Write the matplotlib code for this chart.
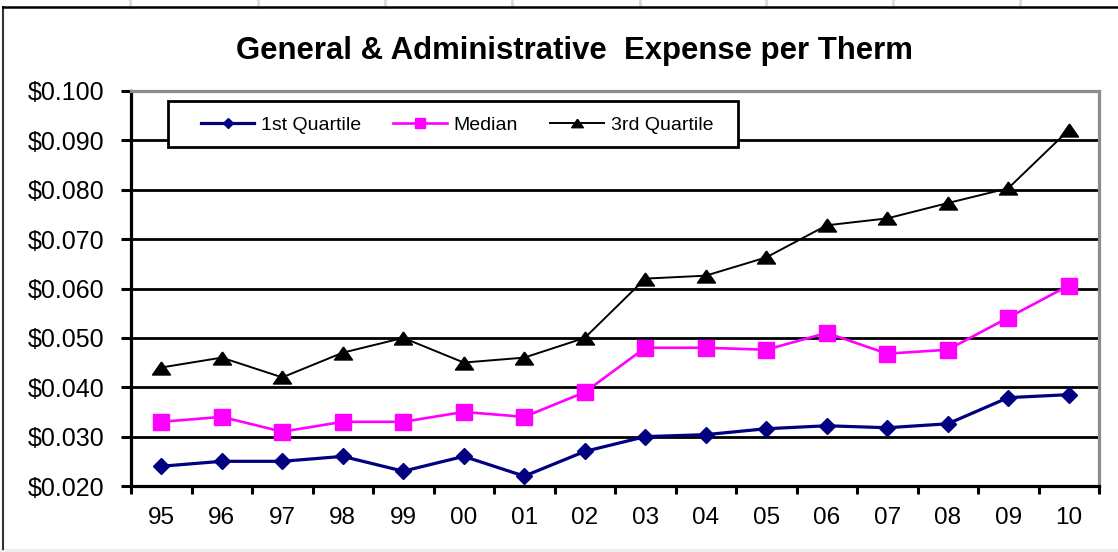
import matplotlib
matplotlib.use("Agg")
import matplotlib.pyplot as plt
from matplotlib.lines import Line2D
from matplotlib.patches import Rectangle
from matplotlib.ticker import FuncFormatter, FixedLocator

plt.rcParams['font.family'] = ['Liberation Sans', 'DejaVu Sans']

years = ["95", "96", "97", "98", "99", "00", "01", "02", "03", "04", "05", "06", "07", "08", "09", "10"]
q1 = [0.024, 0.025, 0.025, 0.026, 0.023, 0.026, 0.022, 0.027, 0.030, 0.0304, 0.0316, 0.0322, 0.0318, 0.0326, 0.0379, 0.0385]
median = [0.033, 0.034, 0.031, 0.033, 0.033, 0.035, 0.034, 0.039, 0.048, 0.048, 0.0476, 0.051, 0.0468, 0.0476, 0.0541, 0.0606]
q3 = [0.044, 0.046, 0.042, 0.047, 0.050, 0.045, 0.046, 0.050, 0.062, 0.0626, 0.0663, 0.0728, 0.0742, 0.0773, 0.0803, 0.0921]
series_names = ["1st Quartile", "Median", "3rd Quartile"]
yticks = [0.02, 0.03, 0.04, 0.05, 0.06, 0.07, 0.08, 0.09, 0.10]

W, H = 1118, 552
fig = plt.figure(figsize=(W / 100, H / 100), dpi=100)

def fx(px):
    return px / W

def fy(py):
    return 1 - py / H

# spreadsheet cell lines above the chart
for gx in [130, 258, 385, 512, 640, 766, 893, 1020]:
    fig.add_artist(Line2D([fx(gx), fx(gx)], [fy(0), fy(7)], color="#D3DAEA", lw=2))
# light bottom strip
fig.add_artist(Rectangle((0, 0), 1, fy(549), color="#EEEEEE", transform=fig.transFigure, lw=0))

# chart border (left and top)
fig.add_artist(Line2D([fx(3), fx(3)], [fy(7), fy(549)], color="#333333", lw=1.5))
fig.add_artist(Line2D([fx(3), 1], [fy(7), fy(7)], color="black", lw=1.8))

ax = fig.add_axes([fx(131), fy(486), fx(1099) - fx(131), fy(91) - fy(486)])
x = list(range(len(years)))

wide_tri = [(0, 0.72), (-1, -0.72), (1, -0.72), (0, 0.72)]

l3, = ax.plot(x, q3, color="black", lw=1.4, marker=wide_tri, markersize=13, markerfacecolor="black",
              markeredgecolor="black", zorder=3)
l2, = ax.plot(x, median, color="#FF00FF", lw=1.9, marker="s", markersize=11.5, markerfacecolor="#FF00FF",
              markeredgecolor="#FF00FF", zorder=4)
l1, = ax.plot(x, q1, color="#000080", lw=2.3, marker="D", markersize=8, markerfacecolor="#000080",
              markeredgecolor="#000080", zorder=5)

ax.set_xlim(-0.5, len(years) - 0.5)
ax.set_ylim(0.02, 0.10)
ax.set_yticks(yticks)
ax.yaxis.set_major_formatter(FuncFormatter(lambda v, p: f"${v:.3f}"))
ax.set_xticks(x)
ax.set_xticklabels(years)
ax.xaxis.set_minor_locator(FixedLocator([i - 0.5 for i in range(len(years) + 1)]))
ax.tick_params(axis="x", which="major", length=0, labelsize=17.5, pad=15)
ax.tick_params(axis="x", which="minor", length=6, width=2.2, direction="out")
ax.tick_params(axis="y", which="major", length=7, width=2.2, direction="out", labelsize=18, pad=12)

ax.grid(axis="y", color="black", lw=2.0, zorder=1)
ax.set_axisbelow(True)
for s in ["left", "bottom"]:
    ax.spines[s].set_linewidth(2.3)
    ax.spines[s].set_color("black")
for s in ["top", "right"]:
    ax.spines[s].set_linewidth(2.3)
    ax.spines[s].set_color("#8C8C8C")

# legend frame drawn separately, legend entries without frame
fig.add_artist(Rectangle((fx(168), fy(147)), fx(738) - fx(168), fy(101) - fy(147),
                         facecolor="white", edgecolor="black", lw=2.0,
                         transform=fig.transFigure, zorder=9))
leg = fig.legend([l1, l2, l3], series_names,
                 loc="center left", ncol=3,
                 bbox_to_anchor=(fx(201), fy(125)),
                 bbox_transform=fig.transFigure, borderaxespad=0, borderpad=0,
                 frameon=False, fontsize=14, markerscale=0.65,
                 handlelength=2.75, handletextpad=0.35, columnspacing=1.65)
leg.set_zorder(10)

fig.text(fx(574), fy(51), "General & Administrative  Expense per Therm", ha="center", va="center",
         fontsize=22.4, fontweight="bold")

fig.savefig("out.png", dpi=100)
